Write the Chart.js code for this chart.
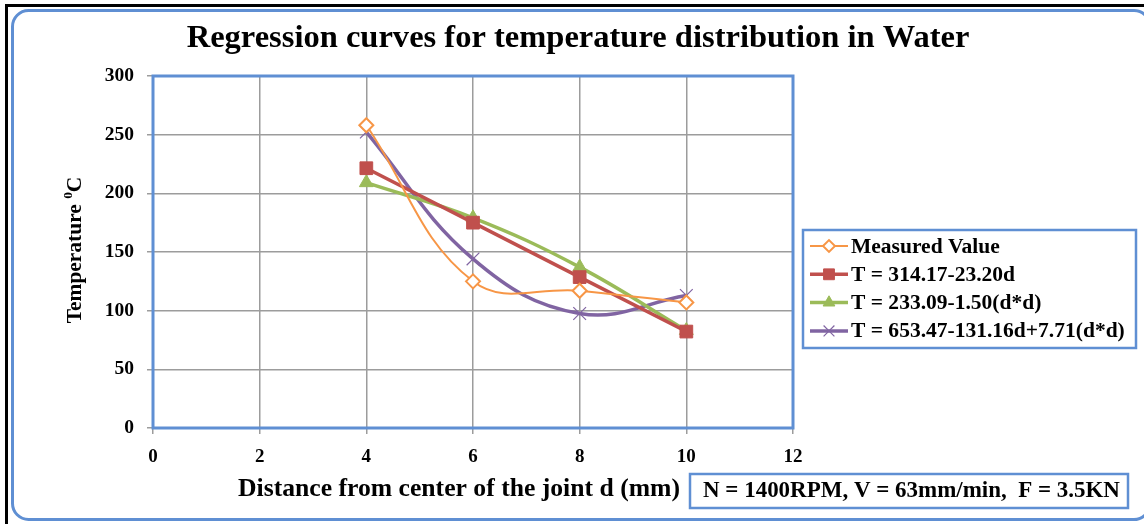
<!DOCTYPE html>
<html>
<head>
<meta charset="utf-8">
<script src="https://cdn.jsdelivr.net/npm/chart.js@4/dist/chart.umd.min.js"></script>
<style>
  html, body { margin: 0; padding: 0; background: #fff; }
  #wrap { width: 1144px; height: 524px; }
</style>
</head>
<body>
<div id="wrap"><canvas id="chart" width="1144" height="524"></canvas></div>
<script>
// distance from joint centre (mm)
const distances = [4, 6, 8, 10];
// temperatures (deg C)
const measured = [258, 125, 117, 107];
const linearFit = [221.4, 175.0, 128.6, 82.2];
const squareFit = [209.1, 179.1, 137.1, 83.1];
const quadFit = [252.2, 144.1, 97.6, 112.9];
const seriesNames = [
  'Measured Value',
  'T = 314.17-23.20d',
  'T = 233.09-1.50(d*d)',
  'T = 653.47-131.16d+7.71(d*d)'
];
const xTickValues = [0, 2, 4, 6, 8, 10, 12];
const yTickValues = [0, 50, 100, 150, 200, 250, 300];

const chartTitle = 'Regression curves for temperature distribution in Water';
const xTitle = 'Distance from center of the joint d (mm)';
const noteText = 'N = 1400RPM, V = 63mm/min,  F = 3.5KN';

const SERIF = '"Liberation Serif", "Times New Roman", serif';
const BLUE = '#5f8fd3';
const GRID = '#9c9c9c';

const toPoints = (ys) => distances.map((d, i) => ({ x: d, y: ys[i] }));

// font size so that text spans the given width
function fitFont(ctx, text, width) {
  ctx.font = `bold 20px ${SERIF}`;
  const size = 20 * width / ctx.measureText(text).width;
  return `bold ${size.toFixed(2)}px ${SERIF}`;
}

const framePlugin = {
  id: 'frame',
  beforeDraw(chart) {
    const ctx = chart.ctx;
    ctx.save();
    ctx.fillStyle = '#fff';
    ctx.fillRect(0, 0, chart.width, chart.height);
    // black outer edge
    ctx.fillStyle = '#000';
    ctx.fillRect(5, 4, chart.width - 5, 3);
    ctx.fillRect(5, 4, 3, chart.height - 4);
    // rounded blue frame
    const l = 12.5, t = 10.5, r = 1150, b = 519.5, rad = 16;
    ctx.beginPath();
    ctx.moveTo(l + rad, t);
    ctx.arcTo(r, t, r, b, rad);
    ctx.arcTo(r, b, l, b, rad);
    ctx.arcTo(l, b, l, t, rad);
    ctx.arcTo(l, t, r, t, rad);
    ctx.closePath();
    ctx.strokeStyle = BLUE;
    ctx.lineWidth = 3;
    ctx.stroke();
    ctx.restore();
  },
  beforeDatasetsDraw(chart) {
    const { ctx, chartArea: a } = chart;
    ctx.save();
    ctx.strokeStyle = BLUE;
    ctx.lineWidth = 3;
    ctx.strokeRect(a.left, a.top, a.right - a.left, a.bottom - a.top);
    ctx.restore();
  },
  afterDraw(chart) {
    const ctx = chart.ctx;
    ctx.save();
    ctx.fillStyle = '#000';
    ctx.textBaseline = 'middle';

    // title
    ctx.textAlign = 'center';
    ctx.font = fitFont(ctx, chartTitle, 783);
    ctx.fillText(chartTitle, 578, 39);

    // x axis title
    ctx.font = fitFont(ctx, xTitle, 442);
    ctx.fillText(xTitle, 459, 489);

    // y axis title with superscript 0
    ctx.save();
    ctx.translate(75, 250);
    ctx.rotate(-Math.PI / 2);
    const mainFont = fitFont(ctx, 'Temperature C', 140);
    const px = parseFloat(mainFont.split(' ')[1]);
    const supFont = `bold ${(px * 0.62).toFixed(1)}px ${SERIF}`;
    ctx.font = mainFont;
    const w1 = ctx.measureText('Temperature ').width;
    const w3 = ctx.measureText('C').width;
    ctx.font = supFont;
    const w2 = ctx.measureText('0').width;
    let x = -(w1 + w2 + w3) / 2;
    ctx.textAlign = 'left';
    ctx.font = mainFont;
    ctx.fillText('Temperature ', x, 0);
    ctx.font = supFont;
    ctx.fillText('0', x + w1, -px * 0.32);
    ctx.font = mainFont;
    ctx.fillText('C', x + w1 + w2, 0);
    ctx.restore();

    // legend
    ctx.strokeStyle = BLUE;
    ctx.lineWidth = 2.5;
    ctx.strokeRect(803, 230, 333, 118);
    ctx.textAlign = 'left';
    const legendFont = fitFont(ctx, seriesNames[3], 274);
    chart.data.datasets.forEach((ds, i) => {
      const y = 246 + i * 28.3;
      ctx.strokeStyle = ds.borderColor;
      ctx.lineWidth = ds.borderWidth;
      ctx.beginPath();
      ctx.moveTo(810, y);
      ctx.lineTo(848, y);
      ctx.stroke();
      ctx.fillStyle = ds.pointBackgroundColor;
      ctx.strokeStyle = ds.pointBorderColor;
      ctx.lineWidth = ds.pointBorderWidth;
      Chart.helpers.drawPoint(ctx, {
        pointStyle: ds.pointStyle,
        rotation: 0,
        radius: ds.pointRadius * 0.85,
        borderWidth: ds.pointBorderWidth
      }, 829, y);
      ctx.fillStyle = '#000';
      ctx.font = legendFont;
      ctx.fillText(ds.label, 851, y + 1);
    });

    // run parameters box
    ctx.strokeStyle = BLUE;
    ctx.lineWidth = 2.5;
    ctx.strokeRect(690, 474, 438, 34);
    ctx.font = fitFont(ctx, noteText, 417);
    ctx.fillText(noteText, 703, 491.5);
    ctx.restore();
  }
};

new Chart(document.getElementById('chart'), {
  type: 'line',
  data: {
    datasets: [
      {
        label: seriesNames[0],
        data: toPoints(measured),
        borderColor: '#f79646',
        borderWidth: 2,
        pointStyle: 'rectRot',
        pointRadius: 7,
        pointBackgroundColor: '#ffffff',
        pointBorderColor: '#f79646',
        pointBorderWidth: 2,
        tension: 0.4
      },
      {
        label: seriesNames[1],
        data: toPoints(linearFit),
        borderColor: '#c0504d',
        borderWidth: 3.5,
        pointStyle: 'rect',
        pointRadius: 9,
        pointBackgroundColor: '#c0504d',
        pointBorderColor: '#c0504d',
        pointBorderWidth: 1,
        tension: 0
      },
      {
        label: seriesNames[2],
        data: toPoints(squareFit),
        borderColor: '#9bbb59',
        borderWidth: 3.5,
        pointStyle: 'triangle',
        pointRadius: 8,
        pointBackgroundColor: '#9bbb59',
        pointBorderColor: '#9bbb59',
        pointBorderWidth: 1,
        tension: 0.4
      },
      {
        label: seriesNames[3],
        data: toPoints(quadFit),
        borderColor: '#8064a2',
        borderWidth: 3.5,
        pointStyle: 'crossRot',
        pointRadius: 9,
        pointBackgroundColor: '#8064a2',
        pointBorderColor: '#8064a2',
        pointBorderWidth: 1.2,
        tension: 0.4
      }
    ]
  },
  options: {
    responsive: false,
    animation: false,
    events: [],
    layout: {
      padding: { left: 0, top: 76, right: 351, bottom: 0 }
    },
    scales: {
      x: {
        type: 'linear',
        min: xTickValues[0],
        max: xTickValues[xTickValues.length - 1],
        afterBuildTicks: (scale) => { scale.ticks = xTickValues.map(v => ({ value: v })); },
        afterFit: (scale) => { scale.height = 96; },
        grid: { color: GRID, lineWidth: 1.5, tickLength: 6 },
        border: { display: false },
        ticks: {
          padding: 12,
          color: '#000',
          font: { family: SERIF, size: 19, weight: 'bold' }
        }
      },
      y: {
        min: yTickValues[0],
        max: yTickValues[yTickValues.length - 1],
        afterBuildTicks: (scale) => { scale.ticks = yTickValues.map(v => ({ value: v })); },
        afterFit: (scale) => { scale.width = 153; },
        grid: { color: GRID, lineWidth: 1.5, tickLength: 6 },
        border: { display: false },
        ticks: {
          padding: 13,
          color: '#000',
          font: { family: SERIF, size: 19.5, weight: 'bold' }
        }
      }
    },
    plugins: {
      legend: { display: false },
      tooltip: { enabled: false },
      title: { display: false }
    }
  },
  plugins: [framePlugin]
});
</script>
</body>
</html>
